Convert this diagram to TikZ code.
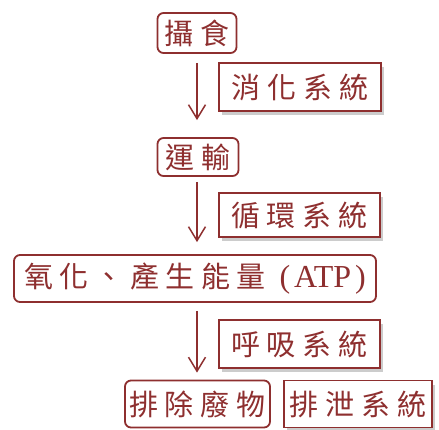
\documentclass[tikz,border=0pt]{standalone}
\usepackage{fontspec}
\setmainfont{Liberation Serif}
\newfontfamily\cjk[LetterSpace=24]{Noto Sans CJK TC}
\newfontfamily\cjktight[LetterSpace=22]{Noto Sans CJK TC}
\usetikzlibrary{arrows.meta,shadows}
\definecolor{dred}{HTML}{8E2F2F}
\tikzset{
  proc/.style={draw=dred, line width=1.8pt, rounded corners=6pt, fill=white,
    text=dred, font=\cjk\fontsize{29}{29}\selectfont, inner sep=0pt, anchor=center},
  sys/.style={draw=dred, line width=1.8pt, fill=white, text=dred,
    font=\cjk\fontsize{29}{29}\selectfont, inner sep=0pt, anchor=center,
    drop shadow={shadow xshift=3pt, shadow yshift=-4pt, fill=black!25, opacity=0.8}},
  arr/.style={draw=dred, line width=1.5pt, -{Straight Barb[length=14pt,width=17pt,line width=1.5pt]}}
}
\begin{document}
\begin{tikzpicture}[x=1pt,y=-1pt]
\useasboundingbox (0,0) rectangle (439,429);
\node[proc, minimum width=79pt, minimum height=40pt] (eat) at (197,33) {攝食};
\node[sys, minimum width=162pt, minimum height=48pt] (dig) at (300,87) {消化系統};
\node[proc, minimum width=81pt, minimum height=38pt] (trans) at (198,157) {運輸};
\node[sys, minimum width=161pt, minimum height=44pt] (circ) at (299.5,215) {循環系統};
\node[proc, minimum width=362pt, minimum height=47pt] (atp) at (195,278.5)
  {\cjktight\fontsize{29}{29}\selectfont 氧化、產生能量\hspace{14pt}{\rmfamily\fontsize{32}{32}\selectfont(\kern4pt ATP\kern4pt)}\hspace{2pt}};
\node[sys, minimum width=161pt, minimum height=48pt] (resp) at (299.5,344) {呼吸系統};
\node[proc, minimum width=145pt, minimum height=47pt] (waste) at (197.5,404) {排除廢物};
\node[sys, minimum width=148pt, minimum height=47pt] (excr) at (358,404) {排泄系統};
\draw[arr, shorten <=9pt, shorten >=17pt] (eat.south -| 197,0) -- (trans.north -| 197,0);
\draw[arr, shorten <=5pt, shorten >=12pt] (trans.south -| 197,0) -- (atp.north -| 197,0);
\draw[arr, shorten <=8pt, shorten >=7pt] (atp.south -| 197,0) -- (waste.north -| 197,0);
\end{tikzpicture}
\end{document}
